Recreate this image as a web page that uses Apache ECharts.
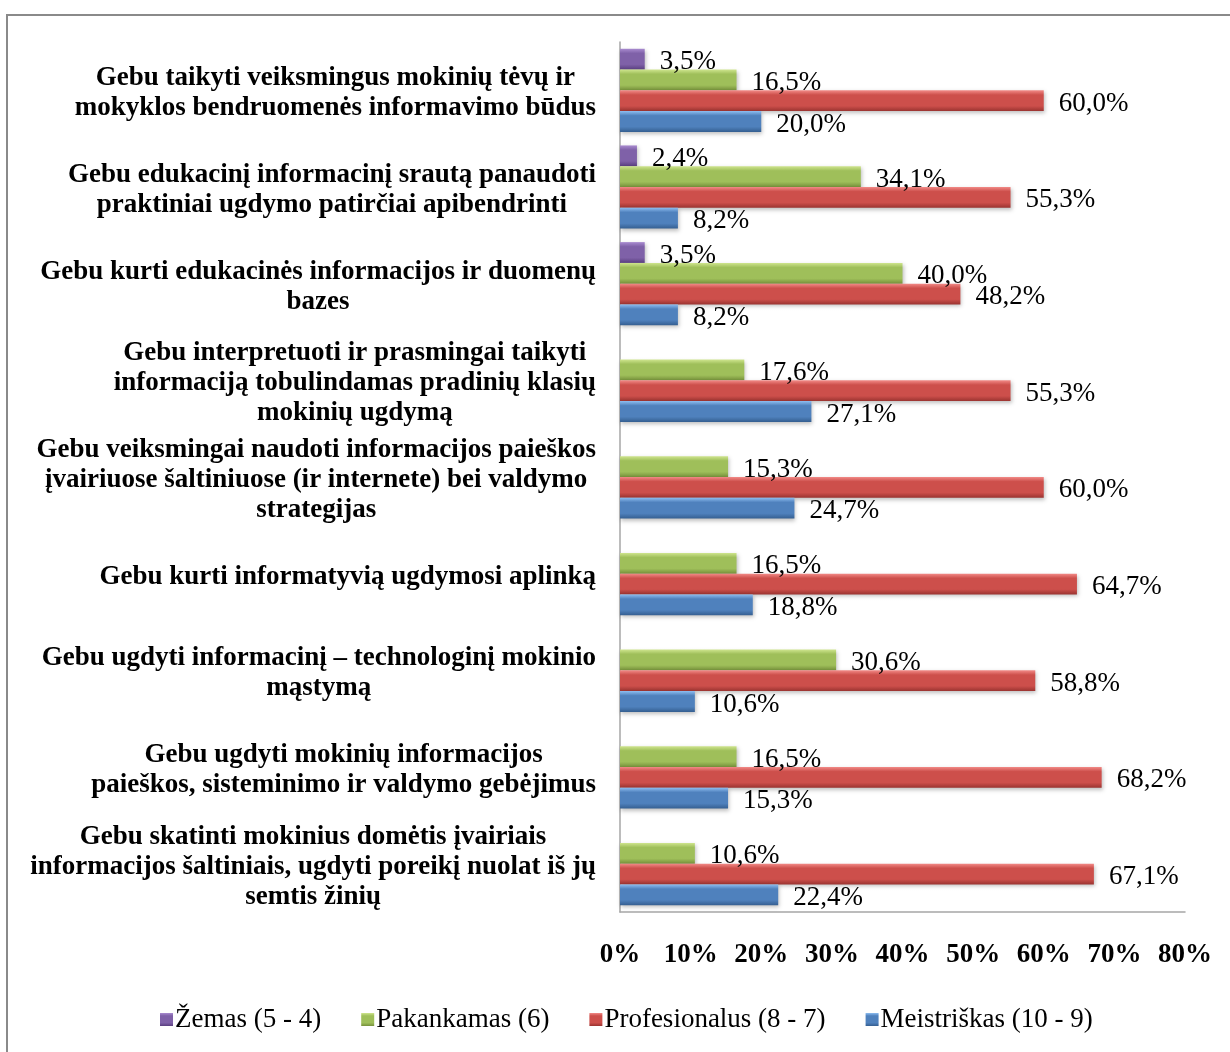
<!DOCTYPE html>
<html>
<head>
<meta charset="utf-8">
<script src="https://cdn.jsdelivr.net/npm/echarts@6/dist/echarts.min.js"></script>
<style>
html,body{margin:0;padding:0;background:#fff;}
#chart{width:1230px;height:1052px;}
</style>
</head>
<body>
<div id="chart"></div>
<script>
const categories = [
  "Gebu taikyti veiksmingus mokinių tėvų ir\nmokyklos bendruomenės informavimo būdus",
  "Gebu edukacinį informacinį srautą panaudoti\npraktiniai ugdymo patirčiai apibendrinti",
  "Gebu kurti edukacinės informacijos ir duomenų\nbazes",
  "Gebu interpretuoti ir prasmingai taikyti\ninformaciją tobulindamas pradinių klasių\nmokinių ugdymą",
  "Gebu veiksmingai naudoti informacijos paieškos\nįvairiuose šaltiniuose (ir internete) bei valdymo\nstrategijas",
  "Gebu kurti informatyvią ugdymosi aplinką",
  "Gebu ugdyti informacinį – technologinį mokinio\nmąstymą",
  "Gebu ugdyti mokinių informacijos\npaieškos, sisteminimo ir valdymo gebėjimus",
  "Gebu skatinti mokinius domėtis įvairiais\ninformacijos šaltiniais, ugdyti poreikį nuolat iš jų\nsemtis žinių"
];
const seriesNames = ["Žemas (5 - 4)", "Pakankamas (6)", "Profesionalus (8 - 7)", "Meistriškas (10 - 9)"];
const zemas = [3.5, 2.4, 3.5, null, null, null, null, null, null];
const pakankamas = [16.5, 34.1, 40.0, 17.6, 15.3, 16.5, 30.6, 16.5, 10.6];
const profesionalus = [60.0, 55.3, 48.2, 55.3, 60.0, 64.7, 58.8, 68.2, 67.1];
const meistriskas = [20.0, 8.2, 8.2, 27.1, 24.7, 18.8, 10.6, 15.3, 22.4];
const xTicks = [0, 10, 20, 30, 40, 50, 60, 70, 80];

const palettes = [
  ['#a98bd0', '#7f61a8', '#5a3f80'],
  ['#cfe58e', '#9fbf5a', '#76913b'],
  ['#f28a87', '#cd4f4b', '#9a3330'],
  ['#8dbdf0', '#4f81bd', '#355f91']
];
function grad(p) {
  return new echarts.graphic.LinearGradient(0, 0, 0, 1, [
    {offset: 0, color: p[0]},
    {offset: 0.22, color: p[1]},
    {offset: 0.75, color: p[1]},
    {offset: 1, color: p[2]}
  ]);
}
const serif = '"Liberation Serif", "Times New Roman", serif';
const allData = [zemas, pakankamas, profesionalus, meistriskas];

const chart = echarts.init(document.getElementById('chart'));
chart.setOption({
  animation: false,
  backgroundColor: '#fff',
  graphic: [{
    type: 'rect', shape: {x: 7, y: 15, width: 1260, height: 1100},
    style: {fill: 'none', stroke: '#8a8a8a', lineWidth: 2}, silent: true
  }],
  grid: {left: 620, right: 45, top: 42, bottom: 140, containLabel: false},
  legend: {
    bottom: 14, left: 155,
    itemWidth: 13, itemHeight: 13, itemGap: 40,
    icon: 'rect',
    textStyle: {fontFamily: serif, fontSize: 27, color: '#000', padding: [0, 0, 0, -3]},
    data: seriesNames
  },
  xAxis: {
    type: 'value', min: 0, max: 80, interval: 10,
    splitLine: {show: false},
    axisLine: {show: true, lineStyle: {color: '#a6a6a6', width: 1.5}},
    axisTick: {show: false},
    axisLabel: {
      margin: 30, fontFamily: serif, fontWeight: 'bold', fontSize: 27, color: '#000',
      formatter: v => v + '%'
    }
  },
  yAxis: {
    type: 'category', inverse: true, data: categories,
    axisLine: {show: true, lineStyle: {color: '#a6a6a6', width: 1.5}},
    axisTick: {show: false},
    axisLabel: {
      margin: 24, align: 'right', padding: [6, 0, 0, 0],
      formatter: v => v.split('\n').map(l => '{c|' + l + '}').join('\n'),
      rich: {c: {align: 'center', fontFamily: serif, fontWeight: 'bold', fontSize: 27, lineHeight: 30, color: '#000'}}
    }
  },
  series: allData.map((d, i) => ({
    name: seriesNames[i], type: 'bar', data: d,
    barGap: '0%', barCategoryGap: '14%',
    itemStyle: {color: grad(palettes[i]), shadowColor: 'rgba(0,0,0,0.25)', shadowBlur: 4, shadowOffsetY: 2, shadowOffsetX: 1},
    label: {
      show: true, position: 'right', distance: 15, offset: [0, 3],
      fontFamily: serif, fontSize: 27, color: '#000',
      formatter: p => p.value == null ? '' : p.value.toFixed(1).replace('.', ',') + '%'
    }
  }))
});
</script>
</body>
</html>
